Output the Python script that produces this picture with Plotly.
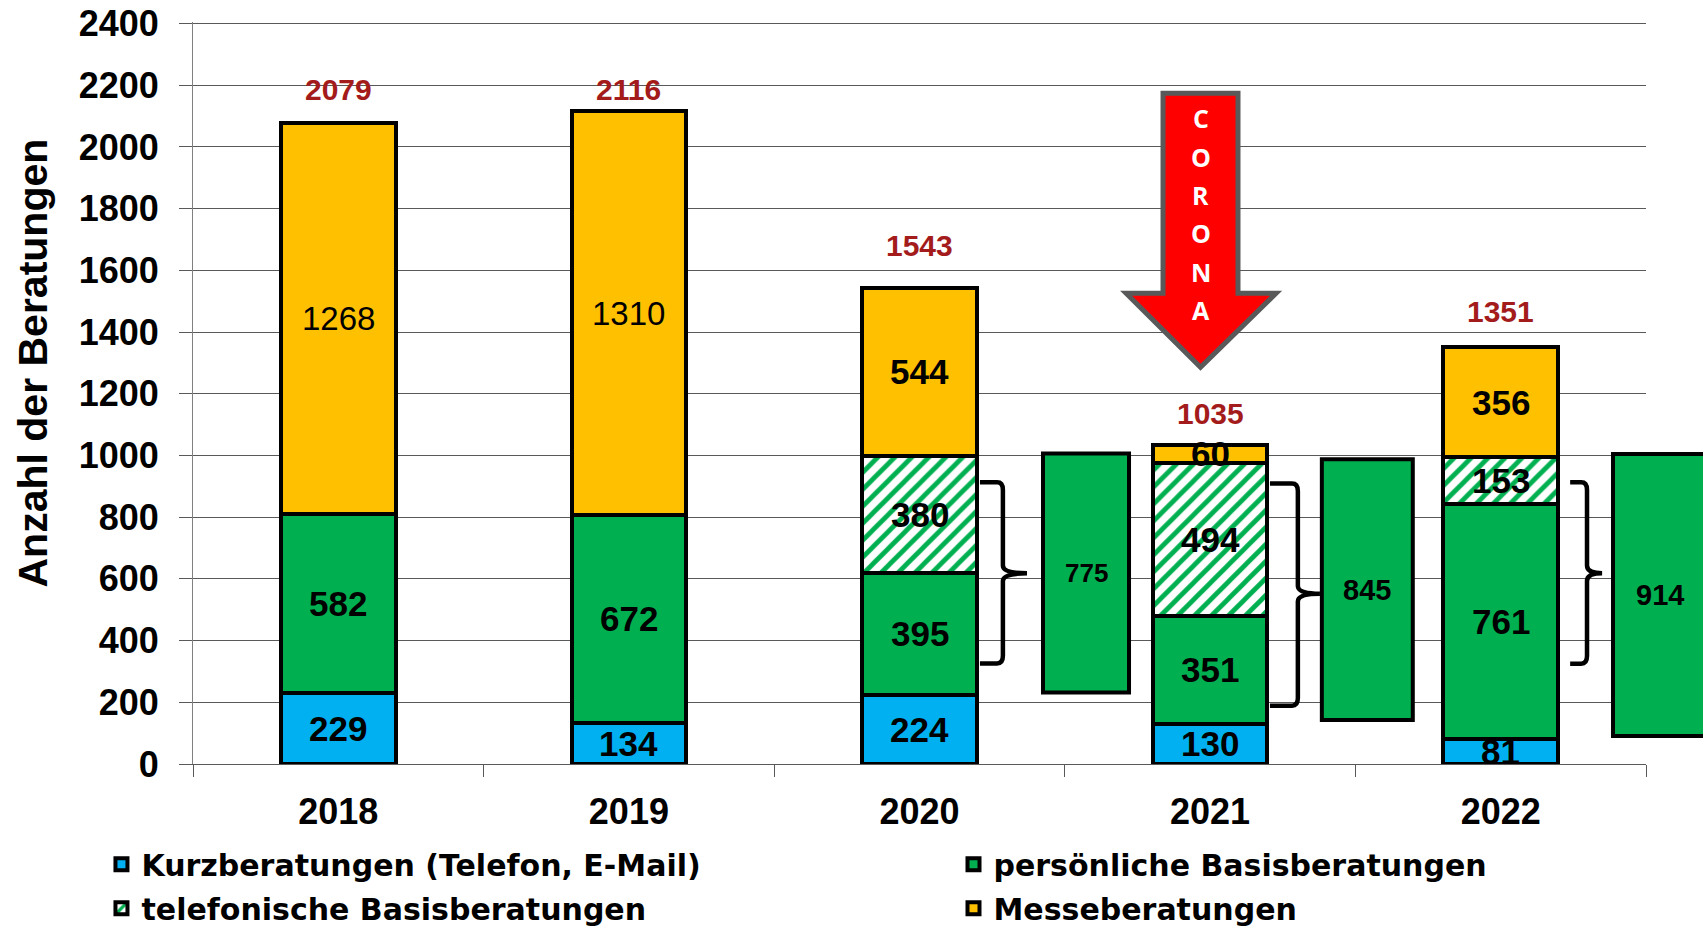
import plotly.graph_objects as go

# ---------------- data ----------------
years = ["2018", "2019", "2020", "2021", "2022"]
kurz = [229, 134, 224, 130, 81]
persoenlich = [582, 672, 395, 351, 761]
telefonisch = [None, None, 380, 494, 153]
messe = [1268, 1310, 544, 60, 356]
totals = [2079, 2116, 1543, 1035, 1351]

series_names = [
    "Kurzberatungen (Telefon, E-Mail)",
    "persönliche Basisberatungen",
    "telefonische Basisberatungen",
    "Messeberatungen",
]

# combined Basisberatungen (persönlich + telefonisch)
combined_years = ["2020", "2021", "2022"]
combined = [775, 845, 914]

corona_text = "CORONA"
y_title = "Anzahl der Beratungen"

# ---------------- style ----------------
BLUE = "#00B0F0"
GREEN = "#00B050"
GOLD = "#FFC000"
TOTAL_RED = "#A31B1B"
GRID = "#595959"
FONT = "Liberation Sans"
LEGEND_FONT = "DejaVu Sans"

series_values = [kurz, persoenlich, telefonisch, messe]
series_colors = [BLUE, GREEN, "white", GOLD]
series_hatched = [False, False, True, False]
series_legend = ["legend", "legend2", "legend", "legend2"]
plain_labels = {(3, 0), (3, 1)}          # (series index, year index) in regular weight
total_shift = [33, 22, 42, 31, 36]       # px offset of total labels above bars
BAR_W = 0.395

# decoration positions (category units / data units)
box_cx = [2.573, 3.541, None]            # last box is placed in paper coords
box_w = [0.296, 0.313, None]
box_cy = [619, 565, 548]
box_label_size = [26, 29, 29]
box3_paper = (0.9773, 1.06, 1.0096)      # x0, x1, label x

brackets = [  # x0, x1, x2, ytop, ybot, ymid
    (2.208, 2.287, 2.370, 913, 326, 618),
    (3.206, 3.302, 3.378, 909, 189, 552),
    (4.239, 4.297, 4.349, 913, 325, 618),
]

arrow = dict(sl=2.838, sr=3.096, hl=2.711, hr=3.227, tip=2.967,
             top=2174, base=1526, tipy=1286)
corona_y0, corona_step = 2093, 124.5
title_pos = (-0.110, 0.540)              # paper position of the y-axis title

fig = go.Figure()

for k, (name, vals, color, hatched, lg) in enumerate(
        zip(series_names, series_values, series_colors, series_hatched, series_legend)):
    marker = dict(color=color, line=dict(color="black", width=4))
    if hatched:
        marker["pattern"] = dict(shape="/", fgcolor=GREEN, bgcolor="white",
                                 fillmode="replace", size=12, solidity=0.4)
    fig.add_trace(go.Bar(x=years, y=vals, name=name, width=BAR_W, marker=marker,
                         legend=lg, legendgroup=f"g{k}", hoverinfo="x+y+name"))

annotations = []
# segment labels
for i, year in enumerate(years):
    base = 0
    for s, vals in enumerate(series_values):
        v = vals[i]
        if v is None:
            continue
        plain = (s, i) in plain_labels
        annotations.append(dict(
            x=i, y=base + v / 2, xref="x", yref="y", text=str(v), showarrow=False,
            xanchor="center", yanchor="middle",
            font=dict(family=FONT, size=33 if plain else 35, color="black",
                      weight="normal" if plain else "bold"),
        ))
        base += v
    annotations.append(dict(
        x=i, y=totals[i], xref="x", yref="y", text=str(totals[i]), showarrow=False,
        yshift=total_shift[i], yanchor="middle", xanchor="center",
        font=dict(family=FONT, size=30, color=TOTAL_RED, weight="bold"),
    ))

shapes = []
# combined boxes
for k, val in enumerate(combined):
    y0 = box_cy[k] - val / 2
    y1 = box_cy[k] + val / 2
    font = dict(family=FONT, size=box_label_size[k], color="black", weight="bold")
    if box_cx[k] is not None:
        shapes.append(dict(type="rect", xref="x", yref="y",
                           x0=box_cx[k] - box_w[k] / 2, x1=box_cx[k] + box_w[k] / 2,
                           y0=y0, y1=y1, fillcolor=GREEN,
                           line=dict(color="black", width=4), layer="above"))
        annotations.append(dict(x=box_cx[k], y=box_cy[k], xref="x", yref="y",
                                text=str(val), showarrow=False, font=font,
                                xanchor="center", yanchor="middle"))
    else:
        shapes.append(dict(type="rect", xref="paper", yref="y",
                           x0=box3_paper[0], x1=box3_paper[1],
                           y0=y0, y1=y1, fillcolor=GREEN,
                           line=dict(color="black", width=4), layer="above"))
        annotations.append(dict(x=box3_paper[2], y=box_cy[k], xref="paper", yref="y",
                                text=str(val), showarrow=False, font=font,
                                xanchor="center", yanchor="middle"))

# brackets
for (x0, x1, x2, yt, yb, ym) in brackets:
    rx, ry = 0.02, 25
    path = (f"M {x0},{yt} L {x1 - rx},{yt} Q {x1},{yt} {x1},{yt - ry} "
            f"L {x1},{ym + ry} Q {x1},{ym} {x2},{ym} "
            f"M {x2},{ym} Q {x1},{ym} {x1},{ym - ry} "
            f"L {x1},{yb + ry} Q {x1},{yb} {x1 - rx},{yb} L {x0},{yb}")
    shapes.append(dict(type="path", xref="x", yref="y", path=path,
                       line=dict(color="black", width=4.5), layer="above"))

# corona arrow
a = arrow
arrow_path = (f"M {a['sl']},{a['top']} L {a['sr']},{a['top']} L {a['sr']},{a['base']} "
              f"L {a['hr']},{a['base']} L {a['tip']},{a['tipy']} L {a['hl']},{a['base']} "
              f"L {a['sl']},{a['base']} Z")
shapes.append(dict(type="path", xref="x", yref="y", path=arrow_path,
                   fillcolor="#FF0000", line=dict(color="#595959", width=5), layer="above"))
for j, ch in enumerate(corona_text):
    annotations.append(dict(x=a["tip"], y=corona_y0 - j * corona_step, xref="x", yref="y",
                            text=ch, showarrow=False, xanchor="center", yanchor="middle",
                            font=dict(family="Open Sans", size=25, color="white", weight="bold")))

# y-axis title
annotations.append(dict(x=title_pos[0], y=title_pos[1], xref="paper", yref="paper",
                        text=y_title, showarrow=False, textangle=-90,
                        xanchor="center", yanchor="middle",
                        font=dict(family=FONT, size=41, color="black", weight="bold")))

legend_common = dict(orientation="v", yanchor="top", xanchor="left",
                     font=dict(family=LEGEND_FONT, size=30, color="black", weight="bold"),
                     traceorder="grouped", tracegroupgap=2, itemclick=False,
                     bgcolor="rgba(0,0,0,0)", borderwidth=0)

fig.update_layout(
    width=1703, height=929,
    margin=dict(l=193, r=57, t=22, b=165, autoexpand=False),
    plot_bgcolor="white", paper_bgcolor="white",
    barmode="stack",
    font=dict(family=FONT, color="black"),
    shapes=shapes, annotations=annotations,
    legend=dict(x=-0.063, y=-0.100, **legend_common),
    legend2=dict(x=0.5234, y=-0.100, **legend_common),
    xaxis=dict(type="category", tickson="boundaries", ticks="outside", ticklen=12,
               tickcolor=GRID, showline=True, linecolor=GRID, linewidth=1,
               showgrid=False, range=[-0.5, 4.5],
               tickfont=dict(family=FONT, size=36, color="black", weight="bold"),
               ticklabelstandoff=16),
    yaxis=dict(range=[0, 2405], tickvals=list(range(0, 2401, 200)),
               showgrid=True, gridcolor=GRID, gridwidth=1,
               ticks="outside", ticklen=13, tickcolor=GRID, showline=True,
               linecolor="#808080", linewidth=1, zeroline=False,
               tickfont=dict(family=FONT, size=36, color="black", weight="bold"),
               ticklabelstandoff=13, ticklabeloverflow="allow"),
)

# remove the browser's default 8 px body margin so the figure fills the window
fig.write_html("out.html", config={"displayModeBar": False},
               post_script="document.body.style.margin='0';")
